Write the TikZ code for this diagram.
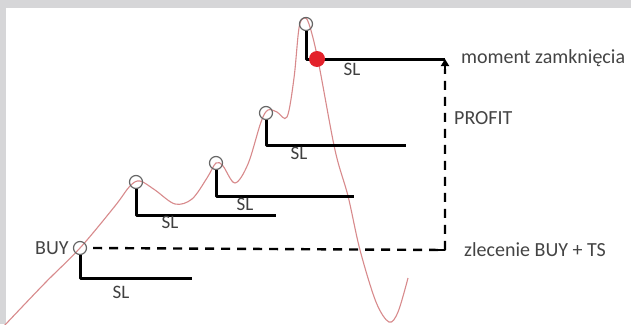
\documentclass[tikz,border=0pt]{standalone}
\usepackage{fontspec}
\setmainfont{Carlito}
\usetikzlibrary{arrows.meta,positioning}
\definecolor{framegray}{HTML}{D6D6D8}
\definecolor{pricered}{HTML}{D88A8C}
\definecolor{stopred}{HTML}{E3222B}
\definecolor{labelgray}{HTML}{444444}

\begin{document}
\begin{tikzpicture}[x=1pt,y=-1pt,
    price/.style={pricered,line width=1.1pt},
    pivot/.style={circle,draw=black!60,line width=1.2pt,minimum size=13pt,inner sep=0pt},
    stopline/.style={line width=3pt,line join=round},
    tsline/.style={line width=2.4pt,dash pattern=on 9pt off 7pt},
    stopdot/.style={circle,fill=stopred,minimum size=16pt,inner sep=0pt},
    lbl/.style={text=labelgray,font=\fontsize{20}{23}\selectfont,inner sep=1pt},
    sltext/.style={text=black!75,font=\fontsize{19}{21}\selectfont,inner sep=0pt}]
  % frame
  \useasboundingbox[fill=framegray] (0,0) rectangle (631,324);
  \fill[white] (6,8) rectangle (631,324);

  % price curve
  \draw[price] plot[smooth,tension=0.55] coordinates {(4,326) (45,283) (80,248) (115,206)
    (130,186) (140,181) (155,190) (175,204) (192,199) (207,178) (216,163) (223,166)
    (235,183) (248,164) (261,122) (268,110) (277,112) (287,117) (294,78) (299,28)
    (304,18) (309,24) (318,60) (335,150) (348,196) (360,250) (376,302) (389,322)
    (398,312) (408,278)};

  % pivots
  \node[pivot] (p1) at (80,248) {};
  \node[pivot] (p2) at (136,182) {};
  \node[pivot] (p3) at (216,163) {};
  \node[pivot] (p4) at (266,113) {};
  \node[pivot] (p5) at (306,24) {};

  \coordinate (s1) at (192,278);
  \coordinate (s2) at (276,215);
  \coordinate (s3) at (354,196);
  \coordinate (s4) at (406,145);
  \coordinate (s5) at (445,59);
  \coordinate (ts) at (445,250);

  % stop loss levels
  \draw[stopline] (p1.south) |- (s1);
  \draw[stopline] (p2.south) |- (s2);
  \draw[stopline] (p3.south) |- (s3);
  \draw[stopline] (p4.south) |- (s4);
  \draw[stopline] (p5.south) |- (s5);
  \node[stopdot] (close) at (317,59) {};

  \node[sltext] (sl1) at (121,292) {SL};
  \node[sltext] (sl2) at (170,222) {SL};
  \node[sltext] (sl3) at (245,204) {SL};
  \node[sltext] (sl4) at (299,153) {SL};
  \node[sltext] (sl5) at (352,69) {SL};

  % trailing stop
  \draw[tsline] ([xshift=6pt]p1.east) -- (ts) -- ([yshift=-10pt]s5);
  \draw[line width=2.4pt,line join=round] ([xshift=-7pt]ts) -- (ts) -- ([yshift=7pt]ts);
  \draw[line width=2.4pt,-{Triangle[width=8pt,length=7pt]}] ([yshift=-12pt]s5) -- (s5);

  \node[lbl,left=3pt of p1] (buy) {BUY};
  \node[lbl,anchor=west] (closing) at (460,58) {moment zamknięcia};
  \node[lbl,anchor=west] (profit) at (453,118) {PROFIT};
  \node[lbl,anchor=west] (order) at (463,250) {zlecenie BUY + TS};
\end{tikzpicture}
\end{document}
